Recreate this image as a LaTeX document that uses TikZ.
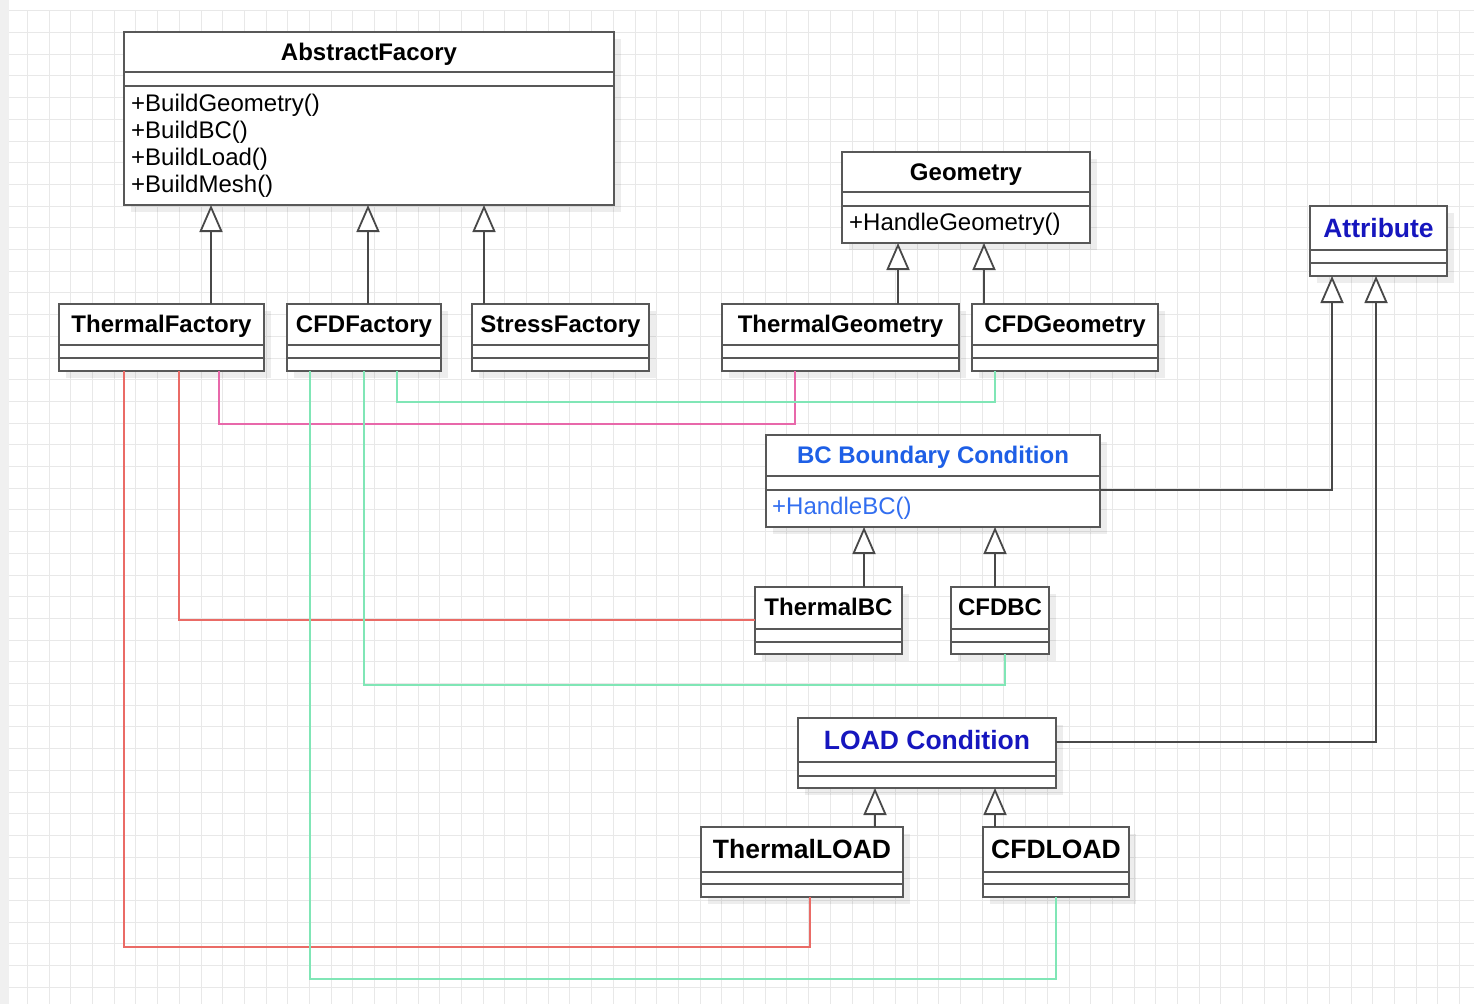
\documentclass[tikz,border=0pt]{standalone}
\usepackage{fontspec}
\setmainfont{Liberation Sans}
\usetikzlibrary{arrows.meta,calc}
\definecolor{boxc}{RGB}{88,88,88}
\definecolor{connc}{RGB}{72,72,72}
\definecolor{gridc}{RGB}{232,232,232}
\definecolor{redl}{RGB}{234,107,102}
\definecolor{pinkl}{RGB}{232,104,170}
\definecolor{greenl}{RGB}{128,230,182}
\definecolor{bcblue}{RGB}{30,95,230}
\definecolor{bcmeth}{RGB}{50,110,240}
\definecolor{darkblue}{RGB}{22,22,190}
\newcommand{\umlcls}[7]{%
  \fill[shadowfill] ({#2+7},{#3+7}) rectangle ({#4+7},{#5+7});
  \node[box, minimum width={#4-#2}, minimum height={#5-#3}] (#1) at (#2,#3) {};
  \draw[boxline] (#2,#6) -- (#4,#6);
  \draw[boxline] (#2,#7) -- (#4,#7);
}
\begin{document}
\begin{tikzpicture}[x=1pt,y=-1pt,
  box/.style={draw=boxc, line width=1.8pt, fill=white, inner sep=0pt, outer sep=0pt, anchor=north west},
  boxline/.style={draw=boxc, line width=1.8pt},
  shadowfill/.style={fill=black, opacity=0.07},
  ttl/.style={font=\fontsize{24}{28}\selectfont\bfseries, anchor=base, inner sep=0pt},
  bigttl/.style={font=\fontsize{26.5}{31}\selectfont\bfseries, anchor=base, inner sep=0pt},
  meth/.style={font=\fontsize{24}{27}\selectfont, anchor=base west, inner sep=0pt},
  inh/.style={draw=connc, line width=1.8pt, -{Triangle[length=27pt,width=23pt,fill=white]}},
  assoc/.style={line width=1.8pt},
]
\useasboundingbox (0,0) rectangle (1474,1004);
% background and grid
\fill[white] (0,0) rectangle (1474,1004);
\fill[black!6] (0,0) rectangle (9,1004);
\foreach \i in {0,...,66} {\draw[gridc, line width=0.8pt] ({27.3+21.7*\i},10) -- ({27.3+21.7*\i},1004);}
\foreach \j in {0,...,45} {\draw[gridc, line width=0.8pt] (9,{10.7+21.7*\j}) -- (1474,{10.7+21.7*\j});}

% classes
\umlcls{af}{124}{32}{614}{205}{72}{86}
\umlcls{tf}{59}{304}{264}{371}{345}{358}
\umlcls{cf}{287}{304}{441}{371}{345}{358}
\umlcls{sf}{472}{304}{649}{371}{345}{358}
\umlcls{geo}{842}{152}{1090}{243}{192}{206}
\umlcls{tg}{722}{304}{959}{371}{345}{358}
\umlcls{cg}{972}{304}{1158}{371}{345}{358}
\umlcls{attr}{1310}{206}{1447}{276}{250}{263}
\umlcls{bc}{766}{435}{1100}{527}{476}{490}
\umlcls{tbc}{755}{587}{902}{654}{629}{642}
\umlcls{cbc}{951}{587}{1049}{654}{629}{642}
\umlcls{load}{798}{718}{1056}{788}{762}{776}
\umlcls{tl}{701}{827}{903}{897}{872}{884}
\umlcls{cl}{983}{827}{1129}{897}{872}{884}

% titles
\node[ttl] (af-t) at (369,60.6) {AbstractFacory};
\node[ttl] (tf-t) at (161.5,332.6) {ThermalFactory};
\node[ttl] (cf-t) at (364,332.6) {CFDFactory};
\node[ttl] (sf-t) at (560.5,332.6) {StressFactory};
\node[ttl] (geo-t) at (966,180.6) {Geometry};
\node[ttl] (tg-t) at (840.5,332.6) {ThermalGeometry};
\node[ttl] (cg-t) at (1065,332.6) {CFDGeometry};
\node[bigttl, text=darkblue] (attr-t) at (1378.5,237.5) {Attribute};
\node[ttl, text=bcblue] (bc-t) at (933,463.6) {BC Boundary Condition};
\node[ttl] (tbc-t) at (828.5,615.6) {ThermalBC};
\node[ttl] (cbc-t) at (1000,615.6) {CFDBC};
\node[bigttl, text=darkblue] (load-t) at (927,749.5) {LOAD Condition};
\node[bigttl] (tl-t) at (802,858.5) {ThermalLOAD};
\node[bigttl] (cl-t) at (1056,858.5) {CFDLOAD};

% methods
\node[meth] (af-m1) at (131,111.6) {+BuildGeometry()};
\node[meth] (af-m2) at (131,138.6) {+BuildBC()};
\node[meth] (af-m3) at (131,165.6) {+BuildLoad()};
\node[meth] (af-m4) at (131,192.6) {+BuildMesh()};
\node[meth] (geo-m1) at (849,230.6) {+HandleGeometry()};
\node[meth, text=bcmeth] (bc-m1) at (772,514.6) {+HandleBC()};

% helper x/y positions
\coordinate (x211) at (211,0);
\coordinate (x368) at (368,0);
\coordinate (x484) at (484,0);
\coordinate (x898) at (898,0);
\coordinate (x984) at (984,0);
\coordinate (x864) at (864,0);
\coordinate (x995) at (995,0);
\coordinate (x875) at (875,0);
\coordinate (a1) at (1332,490);
\coordinate (a2) at (1376,742);

% colored association lines
\coordinate (p1) at (219,424); \coordinate (p2) at (795,424);
\draw[assoc, pinkl] (tf.south -| p1) -- (p1) -- (p2) -- (tg.south -| p2);
\coordinate (g1) at (397,402); \coordinate (g2) at (995,402);
\draw[assoc, greenl] (cf.south -| g1) -- (g1) -- (g2) -- (cg.south -| g2);
\coordinate (r1) at (179,620);
\draw[assoc, redl] (tf.south -| r1) -- (r1) -- (tbc.west |- r1);
\coordinate (g3) at (364,685); \coordinate (g4) at (1005,685);
\draw[assoc, greenl] (cf.south -| g3) -- (g3) -- (g4) -- (cbc.south -| g4);
\coordinate (r2) at (124,947); \coordinate (r3) at (810,947);
\draw[assoc, redl] (tf.south -| r2) -- (r2) -- (r3) -- (tl.south -| r3);
\coordinate (g5) at (310,979); \coordinate (g6) at (1056,979);
\draw[assoc, greenl] (cf.south -| g5) -- (g5) -- (g6) -- (cl.south -| g6);

% inheritance
\draw[inh] (tf.north -| x211) -- (af.south -| x211);
\draw[inh] (cf.north -| x368) -- (af.south -| x368);
\draw[inh] (sf.north -| x484) -- (af.south -| x484);
\draw[inh] (tg.north -| x898) -- (geo.south -| x898);
\draw[inh] (cg.north -| x984) -- (geo.south -| x984);
\draw[inh] (tbc.north -| x864) -- (bc.south -| x864);
\draw[inh] (cbc.north -| x995) -- (bc.south -| x995);
\draw[inh] (tl.north -| x875) -- (load.south -| x875);
\draw[inh] (cl.north -| x995) -- (load.south -| x995);
\draw[inh] (bc.east |- a1) -- (a1) -- (attr.south -| a1);
\draw[inh] (load.east |- a2) -- (a2) -- (attr.south -| a2);
\end{tikzpicture}
\end{document}
